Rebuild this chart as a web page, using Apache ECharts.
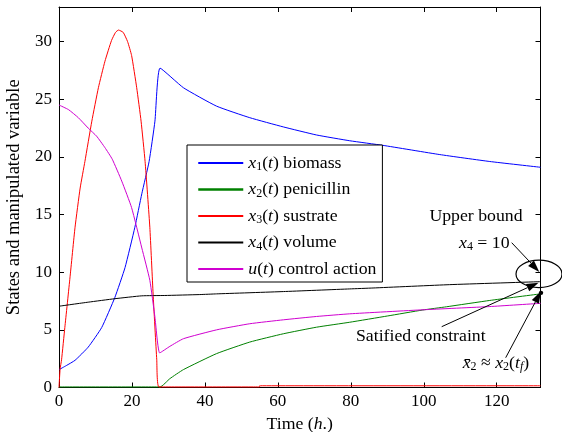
<!DOCTYPE html>
<html>
<head>
<meta charset="utf-8">
<script src="https://cdn.jsdelivr.net/npm/echarts@6/dist/echarts.min.js"></script>
<style>
  html, body { margin: 0; padding: 0; background: #fff; }
  #main { width: 562px; height: 432px; }
</style>
</head>
<body>
<div id="main"></div>
<script>
// [time (h), value]
var biomass = [[0,1.55],[2,1.9],[4.4,2.36],[8,3.5],[11.7,5.2],[15.3,7.8],[18.1,10.4],[20.8,13.9],[22.7,16.8],[24.7,19.6],[26.3,23.1],[27.7,27.7],[34.1,26.0],[43.2,24.4],[52.3,23.4],[61.5,22.6],[70.6,21.9],[79.7,21.4],[88.8,21.0],[104.4,20.2],[118.1,19.6],[132,19.1]];
var penicillin = [[0,0.05],[27.7,0.05],[30.4,0.77],[34.1,1.55],[43.2,2.94],[52.3,3.94],[61.5,4.66],[70.6,5.23],[79.7,5.66],[90,6.2],[99.7,6.72],[106.2,7.0],[118.1,7.55],[132,8.12]];
var substrate = [[0,0],[0.3,1.6],[0.7,2.4],[1.6,5.2],[3,9.5],[4.4,13.9],[5.8,17.3],[7.1,19.6],[9,23.1],[10.8,26],[12.6,28.3],[14.4,30.1],[15.5,30.8],[16.3,31.0],[17.6,30.8],[18.8,30.0],[19.9,28.8],[21.3,26.0],[22.5,23.1],[23.6,19.6],[24.9,13.9],[25.8,8.1],[26.8,2.4],[27.4,0.05],[55,0.05],[55,0.15],[132,0.15]];
var volume = [[0,7.05],[8,7.4],[15.3,7.7],[22.7,7.95],[29,7.98],[38.6,8.06],[43.2,8.12],[61.5,8.32],[79.7,8.55],[86.1,8.63],[107.1,8.92],[132,9.18]];
var control = [[0,24.5],[2.6,24.1],[5.3,23.4],[8,22.5],[10.3,21.8],[12.6,20.8],[14.6,19.8],[17.2,17.9],[19.9,15.6],[22.7,12.1],[24.9,9.3],[26.3,6.1],[27.6,3.0],[30.4,3.57],[34.1,4.23],[43.2,5.0],[52.3,5.53],[61.5,5.87],[70.6,6.16],[79.7,6.39],[99.8,6.74],[118.1,7.02],[132,7.3]];

var names = ['x1(t) biomass', 'x2(t) penicillin', 'x3(t) sustrate', 'x4(t) volume', 'u(t) control action'];
var colors = ['#0000ff', '#008000', '#ff0000', '#000000', '#d000d0'];
var xTicks = { min: 0, max: 132, interval: 20 };
var yTicks = { min: 0, max: 33, interval: 5 };

var FONT = 'Liberation Serif';
var FS = 17.75;
var rich = {
  n: { fontFamily: FONT, fontSize: FS, lineHeight: 20, color: '#000' },
  i: { fontFamily: FONT, fontSize: FS, lineHeight: 20, fontStyle: 'italic', color: '#000' },
  s: { fontFamily: FONT, fontSize: 12, lineHeight: 4, verticalAlign: 'bottom', color: '#000' },
  si: { fontFamily: FONT, fontSize: 12, lineHeight: 4, verticalAlign: 'bottom', fontStyle: 'italic', color: '#000' }
};

function legendText(name) {
  var m = name.match(/^(\w)(\d?)\(t\)(.*)$/);
  var out = '{i|' + m[1] + '}';
  if (m[2]) out += '{s|' + m[2] + '}';
  return out + '{n|(}{i|t}{n|)' + m[3] + '}';
}

var chart = echarts.init(document.getElementById('main'), null, { renderer: 'canvas' });

function xAx(pos) {
  return {
    type: 'value', position: pos, min: xTicks.min, max: xTicks.max, interval: xTicks.interval,
    axisLine: { show: true, onZero: false, lineStyle: { color: '#000', width: 1 } },
    axisTick: { inside: true, length: 5, lineStyle: { color: '#000' } },
    axisLabel: { show: pos === 'bottom', color: '#000', fontFamily: FONT, fontSize: 17, margin: 6, showMaxLabel: false },
    splitLine: { show: false }
  };
}
function yAx(pos) {
  return {
    type: 'value', position: pos, min: yTicks.min, max: yTicks.max, interval: yTicks.interval,
    axisLine: { show: true, onZero: false, lineStyle: { color: '#000', width: 1 } },
    axisTick: { inside: true, length: 5, lineStyle: { color: '#000' } },
    axisLabel: { show: pos === 'left', color: '#000', fontFamily: FONT, fontSize: 17, margin: 7, showMaxLabel: false },
    splitLine: { show: false }
  };
}

var xa = xAx('bottom');
xa.name = 'Time ({i|h}.)';
xa.nameLocation = 'middle';
xa.nameGap = 24;
xa.nameTextStyle = { fontFamily: FONT, fontSize: FS, color: '#000', rich: rich };
var ya = yAx('left');
ya.name = 'States and manipulated variable';
ya.nameLocation = 'middle';
ya.nameGap = 31;
ya.nameTextStyle = { fontFamily: FONT, fontSize: 18.5, color: '#000' };

var datas = [biomass, penicillin, substrate, volume, control];

var option = {
  animation: false,
  backgroundColor: '#fff',
  grid: { left: 59, right: 21.5, top: 7, bottom: 44.5, containLabel: false, outerBoundsMode: 'none' },
  xAxis: [xa, xAx('top')],
  yAxis: [ya, yAx('right')],
  legend: {
    orient: 'vertical', left: 187, top: 145,
    padding: [9, 6, 4, 10], itemGap: 7.5, itemWidth: 45, itemHeight: 20,
    backgroundColor: '#fff', borderColor: '#000', borderWidth: 1, borderRadius: 0,
    selectedMode: false,
    itemStyle: { opacity: 0, borderWidth: 0 },
    textStyle: { fontFamily: FONT, fontSize: FS, color: '#000', rich: rich },
    formatter: legendText,
    data: names.map(function (n, i) {
      return i === 1 ? { name: n, lineStyle: { width: 2.5 } } : { name: n };
    })
  },
  series: names.map(function (n, i) {
    return {
      name: n, type: 'line', data: datas[i], symbol: 'none', showSymbol: false,
      smooth: 0.15,
      color: colors[i], lineStyle: { color: colors[i], width: 1 }
    };
  })
};
chart.setOption(option);

// annotations
function arrow(x1, y1, x2, y2) {
  var a = Math.atan2(y2 - y1, x2 - x1), L = 12, W = 4;
  var bx = x2 - L * Math.cos(a), by = y2 - L * Math.sin(a);
  return [
    { type: 'line', shape: { x1: x1, y1: y1, x2: bx, y2: by }, style: { stroke: '#000', lineWidth: 1 }, z: 10 },
    { type: 'polygon', shape: { points: [[x2, y2], [bx + W * Math.sin(a), by - W * Math.cos(a)], [bx - W * Math.sin(a), by + W * Math.cos(a)]] }, style: { fill: '#000' }, z: 10 }
  ];
}
var finder = { xAxisIndex: 0, yAxisIndex: 0 };
var pBound = chart.convertToPixel(finder, [132, 10]);
var pVol = chart.convertToPixel(finder, [132, volume[volume.length - 1][1]]);
var pPen = chart.convertToPixel(finder, [132, penicillin[penicillin.length - 1][1]]);

var g = [];
g.push({ type: 'ellipse', shape: { cx: pBound[0] - 1.5, cy: pBound[1] + 1.7, rx: 23, ry: 13.7 }, style: { fill: 'none', stroke: '#000', lineWidth: 1.2 }, z: 10 });
g = g.concat(arrow(511.7, 242.7, pBound[0] - 1.2, pBound[1] - 0.3));
g = g.concat(arrow(441.7, 326.7, pVol[0] - 2, pVol[1] + 1));
g = g.concat(arrow(505.7, 357.7, pPen[0] + 0.5, pPen[1] - 2.5));
g.push({ type: 'circle', shape: { cx: pPen[0] + 0.5, cy: pPen[1] - 1, r: 2.2 }, style: { fill: '#000' }, z: 10 });
g.push({ type: 'text', x: 476, y: 216.7, z: 10, style: { text: 'Upper bound', font: FS + 'px "Liberation Serif"', fill: '#000', textAlign: 'center', textVerticalAlign: 'middle' } });
g.push({ type: 'text', x: 459, y: 243, z: 10, style: { text: '{i|x}{s|4}{n| = 10}', rich: rich, textAlign: 'left', textVerticalAlign: 'middle' } });
g.push({ type: 'text', x: 356, y: 336.7, z: 10, style: { text: 'Satified constraint', font: FS + 'px "Liberation Serif"', fill: '#000', textAlign: 'left', textVerticalAlign: 'middle' } });
g.push({ type: 'text', x: 462.7, y: 363, z: 10, style: { text: '{i|x\u0304}{s|2}{n| \u2248 }{i|x}{s|2}{n|(}{i|t}{si|f}{n|)}', rich: rich, textAlign: 'left', textVerticalAlign: 'middle' } });
chart.setOption({ graphic: g });
</script>
</body>
</html>
